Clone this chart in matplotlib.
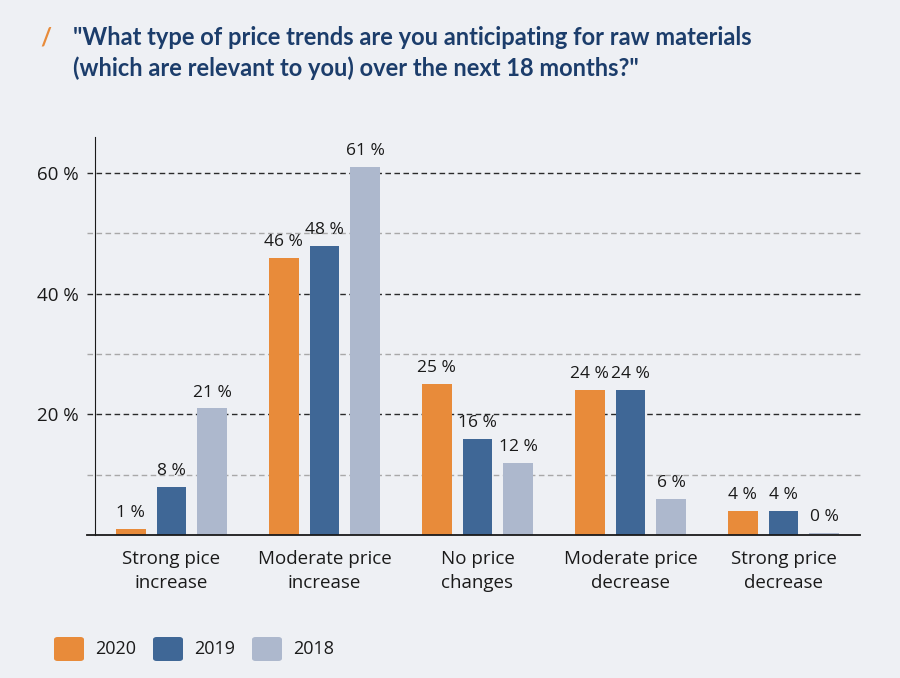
import numpy as np
import matplotlib.pyplot as plt
from matplotlib.patches import FancyBboxPatch

categories = ["Strong pice\nincrease", "Moderate price\nincrease", "No price\nchanges",
              "Moderate price\ndecrease", "Strong price\ndecrease"]
years = ["2020", "2019", "2018"]
values_2020 = [1, 46, 25, 24, 4]
values_2019 = [8, 48, 16, 24, 4]
values_2018 = [21, 61, 12, 6, 0]
yticks = [20, 40, 60]
ytick_labels = ["20 %", "40 %", "60 %"]

colors = ["#e88b3a", "#3f6796", "#adb8cd"]
bg = "#eef0f4"
title_color = "#1c3d6b"
text_color = "#1a1a1a"
body_font = ['Open Sans', 'DejaVu Sans']

plt.rcParams['font.family'] = ['Lato', 'DejaVu Sans']

fig = plt.figure(figsize=(9, 6.78), dpi=100, facecolor=bg)
ax = fig.add_axes([95 / 900, 1 - 535 / 678, 765 / 900, 398 / 678])
ax.set_facecolor(bg)

x = np.arange(len(categories))
width = 0.195
offset = 0.266
series = [values_2020, values_2019, values_2018]

# light grid at 10/30/50, dark at 20/40/60
for v in [10, 30, 50]:
    ax.axhline(v, xmin=-0.01, color="#a8a8a8", lw=1, ls=(0, (4, 2.5)), zorder=0, clip_on=False)
for v in yticks:
    ax.axhline(v, xmin=-0.01, color="#2a2a2a", lw=1, ls=(0, (4, 2.5)), zorder=0, clip_on=False)

for i, (vals, c) in enumerate(zip(series, colors)):
    pos = x + (i - 1) * offset
    heights = [max(v, 0.4) for v in vals]
    ax.bar(pos, heights, width, color=c, zorder=2, label=years[i])
    for p, v, h in zip(pos, vals, heights):
        ax.text(p, h + 1.3, f"{v} %", ha="center", va="bottom", fontsize=12.5,
                color=text_color, family=body_font)

ax.set_xlim(-0.5, 4.5)
ax.set_ylim(0, 66)
ax.set_yticks(yticks)
ax.set_yticklabels(ytick_labels, fontsize=13.5, color=text_color, family=body_font)
ax.tick_params(axis="y", length=0, pad=12)
ax.set_xticks(x)
ax.set_xticklabels(categories, fontsize=13.5, color=text_color, linespacing=1.38,
                   family=body_font)
ax.tick_params(axis="x", length=0, pad=11)

for s in ["top", "right"]:
    ax.spines[s].set_visible(False)
ax.spines["left"].set_color("#1a1a1a")
ax.spines["bottom"].set_color("#1a1a1a")
ax.spines["bottom"].set_bounds(-0.55, 4.5)
ax.spines["bottom"].set_linewidth(1.3)

# title
fig.text(40 / 900, 1 - 45 / 678, "/", color="#e88b3a", fontsize=17, fontweight="bold",
         ha="left", va="baseline")
title_lines = ["\"What type of price trends are you anticipating for raw materials",
               "(which are relevant to you) over the next 18 months?\""]
for k, line in enumerate(title_lines):
    fig.text(73 / 900, 1 - (45 + 31 * k) / 678, line, color=title_color, fontsize=17,
             fontweight="bold", ha="left", va="baseline")

# legend
lx = [54, 153, 252]
for xx, c, yr in zip(lx, colors, years):
    fig.patches.append(FancyBboxPatch((xx / 900, 1 - 661 / 678), 30 / 900, 24 / 678,
                                      boxstyle="round,pad=0,rounding_size=0.004",
                                      transform=fig.transFigure, facecolor=c, edgecolor="none"))
    fig.text((xx + 41) / 900, 1 - 649 / 678, yr, fontsize=13, color=text_color,
             va="center", ha="left", family=body_font)

fig.savefig("out.png", dpi=100, facecolor=bg)
